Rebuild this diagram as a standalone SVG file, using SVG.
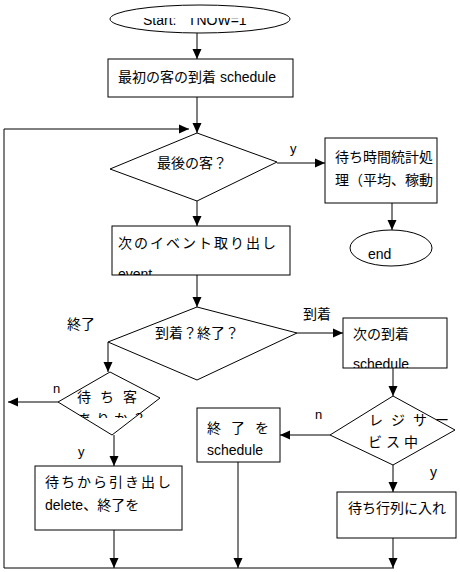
<svg xmlns="http://www.w3.org/2000/svg" width="460" height="572" viewBox="0 0 460 572">
<style>
.s{fill:#fff;stroke:#000;stroke-width:1}
.c{fill:none;stroke:#000;stroke-width:1}
text{font-family:"Liberation Sans","Noto Sans CJK JP",sans-serif;font-size:14px;fill:#000}
.l{font-size:13px}
</style>
<defs>
<marker id="ah" viewBox="0 0 10 10" refX="10" refY="5" markerWidth="10" markerHeight="10" markerUnits="userSpaceOnUse" orient="auto"><path d="M0,0.5 L10,5 L0,9.5 z" fill="#000"/></marker>
<clipPath id="cStart"><rect x="110" y="18" width="180" height="16"/></clipPath>
<clipPath id="cB2"><rect x="112" y="226" width="178" height="49"/></clipPath>
<clipPath id="cB4"><rect x="343" y="318" width="104" height="50"/></clipPath>
<clipPath id="cD4"><rect x="58" y="372" width="102" height="46"/></clipPath>
<clipPath id="cB3"><rect x="325" y="138" width="112" height="65"/></clipPath>
</defs>
<rect width="460" height="572" fill="#fff"/>
<g id="connectors">
<path class="c" d="M197,33 V59" marker-end="url(#ah)"/>
<path class="c" d="M197,97 V133" marker-end="url(#ah)"/>
<path class="c" d="M394,568 H4 V129 H189" marker-end="url(#ah)"/>
<path class="c" d="M277,163 H325" marker-end="url(#ah)"/>
<path class="c" d="M197,201 V226" marker-end="url(#ah)"/>
<path class="c" d="M392,203 V230" marker-end="url(#ah)"/>
<path class="c" d="M197,275 V307" marker-end="url(#ah)"/>
<path class="c" d="M297,333 H343" marker-end="url(#ah)"/>
<path class="c" d="M108,342 V372" marker-end="url(#ah)"/>
<path class="c" d="M393,368 V396" marker-end="url(#ah)"/>
<path class="c" d="M330,435 H280" marker-end="url(#ah)"/>
<path class="c" d="M393,465 V492" marker-end="url(#ah)"/>
<path class="c" d="M393,538 V568" marker-end="url(#ah)"/>
<path class="c" d="M238,462 V568" marker-end="url(#ah)"/>
<path class="c" d="M58,402 H8" marker-end="url(#ah)"/>
<path class="c" d="M114,435 V466" marker-end="url(#ah)"/>
<path class="c" d="M114,530 V568" marker-end="url(#ah)"/>
<text x="290" y="153" class="l">y</text>
<text x="67" y="329">終了</text>
<text x="303" y="319">到着</text>
<text x="53" y="393" class="l">n</text>
<text x="78" y="456" class="l">y</text>
<text x="315" y="419" class="l">n</text>
<text x="430" y="477" font-size="10">y</text>
</g>
<g id="start">
<ellipse class="s" cx="200" cy="19" rx="90" ry="14"/>
<text x="143" y="25" clip-path="url(#cStart)" xml:space="preserve">Start:   TNOW=1</text>
</g>
<g id="first">
<rect class="s" x="108" y="59" width="185" height="38"/>
<text x="118" y="82">最初の客の到着 schedule</text>
</g>
<g id="last">
<polygon class="s" points="197,133 277,162 197,201 110,169"/>
<text x="157" y="168">最後の客？</text>
</g>
<g id="stats">
<rect class="s" x="325" y="138" width="112" height="65"/>
<g clip-path="url(#cB3)">
<text x="335" y="162">待ち時間統計処</text>
<text x="335" y="185">理（平均、稼動</text>
</g>
</g>
<g id="end">
<ellipse class="s" cx="391" cy="248" rx="41" ry="18"/>
<text x="368" y="259">end</text>
</g>
<g id="next-event">
<rect class="s" x="112" y="226" width="178" height="49"/>
<g clip-path="url(#cB2)">
<text x="118" y="248" letter-spacing="2">次のイベント取り出し</text>
<text x="118" y="279">event</text>
</g>
</g>
<g id="arr-end">
<polygon class="s" points="197,307 297,333 197,380 108,342"/>
<text x="155" y="338">到着？終了？</text>
</g>
<g id="next-arrival">
<rect class="s" x="343" y="318" width="104" height="50"/>
<g clip-path="url(#cB4)">
<text x="353" y="339">次の到着</text>
<text x="353" y="369">schedule</text>
</g>
</g>
<g id="waiting">
<polygon class="s" points="110,372 160,398 112,435 58,402"/>
<text x="77" y="402" letter-spacing="9">待ち客</text>
<text x="78" y="424" clip-path="url(#cD4)" font-size="12" letter-spacing="4">ありか？</text>
</g>
<g id="register">
<polygon class="s" points="393,396 455,430 393,465 330,435"/>
<text x="369" y="425" font-size="13" letter-spacing="8">レジサー</text>
<text x="368" y="447" font-size="13" letter-spacing="4">ビス中</text>
</g>
<g id="end-schedule">
<rect class="s" x="197" y="408" width="83" height="54"/>
<text x="207" y="433" letter-spacing="10">終了を</text>
<text x="207" y="455">schedule</text>
</g>
<g id="dequeue">
<rect class="s" x="35" y="466" width="147" height="64"/>
<text x="45" y="487" letter-spacing="2">待ちから引き出し</text>
<text x="45" y="510">delete、終了を</text>
</g>
<g id="enqueue">
<rect class="s" x="337" y="492" width="119" height="46"/>
<text x="348" y="513">待ち行列に入れ</text>
</g>
</svg>
